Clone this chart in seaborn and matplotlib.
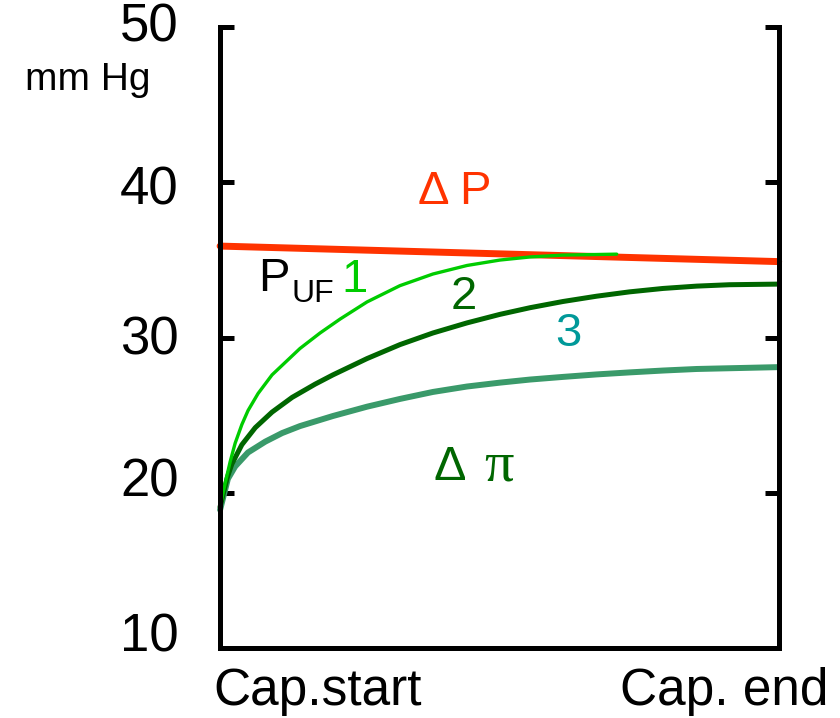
import numpy as np
import pandas as pd
import matplotlib
matplotlib.use("Agg")
import matplotlib.pyplot as plt
import matplotlib.transforms as mtransforms
import seaborn as sns

# ---- data ----
dp_t = [0.0, 1.0]
dp_v = [35.9, 34.9]

c1_t = [0.0, 0.009, 0.018, 0.027, 0.039, 0.050, 0.068, 0.093, 0.143, 0.179, 0.215,
        0.263, 0.322, 0.381, 0.442, 0.501, 0.555, 0.614, 0.710]
c1_v = [19.1, 20.6, 22.0, 23.2, 24.4, 25.3, 26.4, 27.6, 29.3, 30.3, 31.2,
        32.3, 33.35, 34.1, 34.65, 35.0, 35.2, 35.32, 35.38]

c2_t = [0.0, 0.013, 0.021, 0.039, 0.063, 0.093, 0.129, 0.170, 0.202, 0.263, 0.322,
        0.381, 0.442, 0.501, 0.555, 0.614, 0.674, 0.733, 0.793, 0.853, 0.912, 1.0]
c2_v = [19.1, 21.0, 21.85, 23.1, 24.2, 25.2, 26.15, 27.0, 27.6, 28.65, 29.55,
        30.3, 30.95, 31.5, 31.93, 32.33, 32.67, 32.95, 33.17, 33.32, 33.41, 33.45]

c3_t = [0.0, 0.014, 0.027, 0.050, 0.081, 0.111, 0.143, 0.202, 0.263, 0.322,
        0.381, 0.442, 0.501, 0.555, 0.614, 0.674, 0.733, 0.793, 0.853, 1.0]
c3_v = [18.9, 20.9, 21.7, 22.6, 23.3, 23.85, 24.3, 24.95, 25.55, 26.05,
        26.5, 26.85, 27.1, 27.3, 27.47, 27.63, 27.76, 27.88, 27.98, 28.1]

y_ticks = [10, 20, 30, 40, 50]
x_tick_pos = [0.175, 0.903]
x_tick_labels = ["Cap.start", "Cap. end"]

sns.set_style("white")
plt.rcParams["font.family"] = ["Liberation Sans", "DejaVu Sans"]
plt.rcParams["text.color"] = "black"
plt.rcParams["xtick.color"] = "black"
plt.rcParams["ytick.color"] = "black"

fig = plt.figure(figsize=(8.4, 7.18), dpi=100)
ax = fig.add_axes([0.262, 0.0975, 0.665, 0.8645])

df3 = pd.DataFrame({"t": c3_t, "v": c3_v})
df2 = pd.DataFrame({"t": c2_t, "v": c2_v})
df1 = pd.DataFrame({"t": c1_t, "v": c1_v})
dfp = pd.DataFrame({"t": dp_t, "v": dp_v})

sns.lineplot(data=df3, x="t", y="v", ax=ax, color="#3a9a6a", lw=4.3, clip_on=False)
sns.lineplot(data=df2, x="t", y="v", ax=ax, color="#006600", lw=3.6, clip_on=False)
sns.lineplot(data=dfp, x="t", y="v", ax=ax, color="#ff3300", lw=5.0, clip_on=False)
sns.lineplot(data=df1, x="t", y="v", ax=ax, color="#00cc00", lw=2.4, clip_on=False)

ax.set_xlim(0, 1)
ax.set_ylim(10, 50)
ax.set_xlabel("")
ax.set_ylabel("")

for s in ["left", "right", "bottom"]:
    ax.spines[s].set_linewidth(3.6)
    ax.spines[s].set_color("black")
ax.spines["top"].set_visible(False)

ax.set_yticks(y_ticks)
ax.set_yticklabels([str(v) for v in y_ticks], fontsize=38)
ax.tick_params(axis="y", which="both", direction="in", length=10, width=3.6,
               left=True, right=True, labelleft=True, pad=30,
               color="black", labelcolor="black")
ax.set_xticks(x_tick_pos)
ax.set_xticklabels(x_tick_labels, fontsize=37, color="black")
ax.tick_params(axis="x", length=0, pad=14)

# small vertical offsets of the y tick labels, as in the reference
offsets_px = [16, 16, 3, -3, 5]
for lab, dy in zip(ax.get_yticklabels(), offsets_px):
    lab.set_transform(lab.get_transform() +
                      mtransforms.ScaledTranslation(0, dy / 100.0, fig.dpi_scale_trans))

fig.text(0.105, 0.889, "mm Hg", fontsize=28, ha="center", va="center")

T = ax.transAxes
ax.text(0.420, 0.734, "Δ P", transform=T, fontsize=34, color="#ff3300", ha="center", va="center")
ax.text(0.097, 0.594, "P", transform=T, fontsize=34, color="black", ha="center", va="center")
ax.text(0.166, 0.571, "UF", transform=T, fontsize=23, color="black", ha="center", va="center")
ax.text(0.241, 0.593, "1", transform=T, fontsize=34, color="#00cc00", ha="center", va="center")
ax.text(0.436, 0.565, "2", transform=T, fontsize=34, color="#006600", ha="center", va="center")
ax.text(0.624, 0.506, "3", transform=T, fontsize=34, color="#009999", ha="center", va="center")
ax.text(0.411, 0.290, "Δ", transform=T, fontsize=35, color="#006600", ha="center", va="center")
ax.text(0.499, 0.292, "π", transform=T, fontsize=42, color="#006600", ha="center", va="center",
        family=["Liberation Serif", "DejaVu Serif"])

fig.savefig("out.png", dpi=100)
